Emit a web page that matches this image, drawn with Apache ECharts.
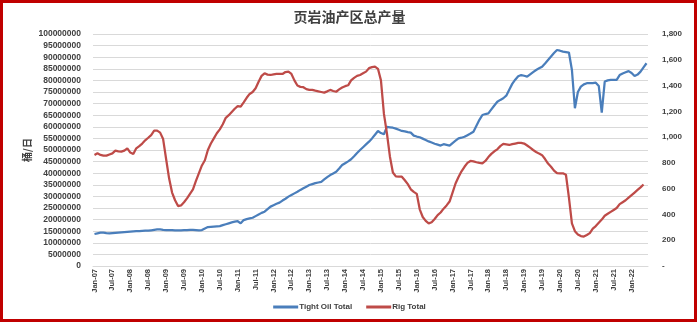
<!DOCTYPE html>
<html><head><meta charset="utf-8">
<script src="https://cdn.jsdelivr.net/npm/echarts@6/dist/echarts.min.js"></script>
<style>html,body{margin:0;padding:0;background:#fff}#c{width:699px;height:323px}</style>
</head><body><div id="c"></div>
<script>
const monthNames = ['Jan','Feb','Mar','Apr','May','Jun','Jul','Aug','Sep','Oct','Nov','Dec'];
const startYear = 2007, monthCount = 186;
const categories = [];
for (let i = 0; i < monthCount; i++) {
  const y = startYear + Math.floor(i / 12);
  categories.push(monthNames[i % 12] + '-' + String(y % 100).padStart(2, '0'));
}
// Tight Oil Total, millions (left axis)
const tightOilMillions = [
13.8,14.1,14.4,14.4,14.2,14.1,14.2,14.3,14.4,14.5,14.6,14.7,
14.8,14.9,15.0,15.0,15.1,15.2,15.2,15.4,15.6,15.8,15.8,15.6,
15.5,15.5,15.5,15.4,15.4,15.4,15.5,15.5,15.6,15.6,15.5,15.4,
15.5,16.2,16.8,16.9,17.0,17.1,17.2,17.6,18.0,18.4,18.8,19.1,
19.3,18.4,19.8,20.2,20.5,20.8,21.5,22.2,22.9,23.4,24.5,25.6,
26.2,26.8,27.3,28.2,29.0,29.9,30.6,31.3,32.0,32.8,33.5,34.2,
34.9,35.3,35.7,36.0,36.3,37.3,38.3,39.2,39.9,40.6,42.0,43.5,
44.3,45.1,46.0,47.3,48.7,50.0,51.2,52.4,53.6,55.0,56.6,58.2,
57.3,56.8,60.0,59.8,59.6,59.2,58.7,58.2,58.0,57.7,57.5,56.2,
55.8,55.5,54.9,54.3,53.7,53.2,52.7,52.3,51.9,52.5,52.2,51.9,
53.0,54.0,55.0,55.3,55.7,56.4,57.1,57.9,60.5,63.0,65.1,65.5,
65.8,67.5,69.2,70.8,71.6,72.3,73.4,76.0,78.5,80.3,81.8,82.3,
82.0,81.6,82.6,83.6,84.5,85.2,85.9,87.3,88.8,90.3,91.8,93.1,
92.8,92.4,92.2,92.0,84.5,68.0,75.0,77.3,78.3,78.8,78.8,78.8,
79.0,77.6,66.1,79.5,80.0,80.2,80.2,80.2,82.3,83.0,83.5,84.0,
83.2,81.9,82.5,83.8,85.6,87.4
];
// Rig Total (right axis)
const rigTotal = [
861,874,862,856,856,865,874,895,890,887,895,913,
880,869,913,930,950,975,995,1016,1050,1050,1035,985,
830,680,570,510,465,470,495,525,560,595,660,720,
780,820,900,950,990,1030,1060,1100,1150,1170,1195,1220,
1241,1236,1270,1305,1335,1350,1379,1430,1475,1495,1485,1482,
1487,1490,1490,1490,1505,1508,1490,1440,1400,1390,1387,1372,
1366,1366,1360,1355,1350,1345,1355,1366,1358,1352,1370,1385,
1395,1402,1440,1460,1475,1482,1495,1508,1535,1543,1547,1530,
1440,1180,1030,850,725,695,693,693,665,635,595,575,
560,440,380,350,331,340,365,395,415,445,470,500,
570,640,690,735,770,800,815,812,805,800,797,815,
845,870,890,905,930,947,943,939,945,950,955,955,
950,935,918,900,885,872,860,830,795,770,740,720,
718,719,708,530,330,270,245,232,228,240,255,290,
310,335,360,390,405,420,435,450,480,495,510,530,
550,570,590,610,632,null
];
const leftTicks = {min: 0, max: 100000000, interval: 5000000};
const rightTicks = {min: 0, max: 1800, interval: 200};

const chart = echarts.init(document.getElementById('c'), null, {renderer: 'canvas'});
const labelFont = {fontFamily: 'Liberation Sans', fontWeight: 'bold', color: '#404040'};
chart.setOption({
  animation: false,
  backgroundColor: '#fff',
  title: {
    text: '页岩油产区总产量', left: 'center', top: 5,
    textStyle: {fontFamily: 'Noto Sans CJK SC', fontWeight: 'bold', fontSize: 14, color: '#404040'}
  },
  graphic: [{
    type: 'rect', shape: {x: 1.5, y: 1.5, width: 694, height: 319},
    style: {fill: null, stroke: '#c00000', lineWidth: 3}, silent: true, z: 100
  }],
  legend: {
    bottom: 7, left: 'center', itemWidth: 25, itemHeight: 3, itemGap: 14,
    icon: 'rect',
    textStyle: Object.assign({fontSize: 8, padding: [0, 0, 0, -4]}, labelFont),
    data: ['Tight Oil Total', 'Rig Total']
  },
  grid: {left: 93, right: 51, top: 34, bottom: 57, containLabel: false},
  xAxis: {
    type: 'category', data: categories, boundaryGap: true,
    axisLine: {lineStyle: {color: '#d9d9d9', width: 1}},
    axisTick: {show: false},
    axisLabel: Object.assign({rotate: 90, interval: 5, fontSize: 7.5, margin: 3}, labelFont)
  },
  yAxis: [{
    type: 'value', min: leftTicks.min, max: leftTicks.max, interval: leftTicks.interval,
    name: '桶/日', nameLocation: 'middle', nameGap: 61, nameRotate: 90, nameMoveOverlap: false,
    nameTextStyle: {fontFamily: 'Noto Sans CJK SC', fontWeight: 'bold', fontSize: 10, color: '#404040'},
    axisLine: {show: false}, axisTick: {show: false},
    splitLine: {lineStyle: {color: '#d9d9d9', width: 1}},
    axisLabel: Object.assign({fontSize: 8.5, margin: 12, formatter: v => String(v)}, labelFont)
  }, {
    type: 'value', min: rightTicks.min, max: rightTicks.max, interval: rightTicks.interval,
    axisLine: {show: false}, axisTick: {show: false}, splitLine: {show: false},
    axisLabel: Object.assign({fontSize: 8, margin: 14,
      formatter: v => v === 0 ? '-' : v.toLocaleString('en-US')}, labelFont)
  }],
  series: [{
    name: 'Tight Oil Total', type: 'line', yAxisIndex: 0, showSymbol: false, symbol: 'none',
    data: tightOilMillions.map(v => v * 1e6),
    lineStyle: {color: '#4a7ebb', width: 2.25}, itemStyle: {color: '#4a7ebb'}
  }, {
    name: 'Rig Total', type: 'line', yAxisIndex: 1, showSymbol: false, symbol: 'none',
    data: rigTotal,
    lineStyle: {color: '#be4b48', width: 2.25}, itemStyle: {color: '#be4b48'}
  }]
});
</script></body></html>
